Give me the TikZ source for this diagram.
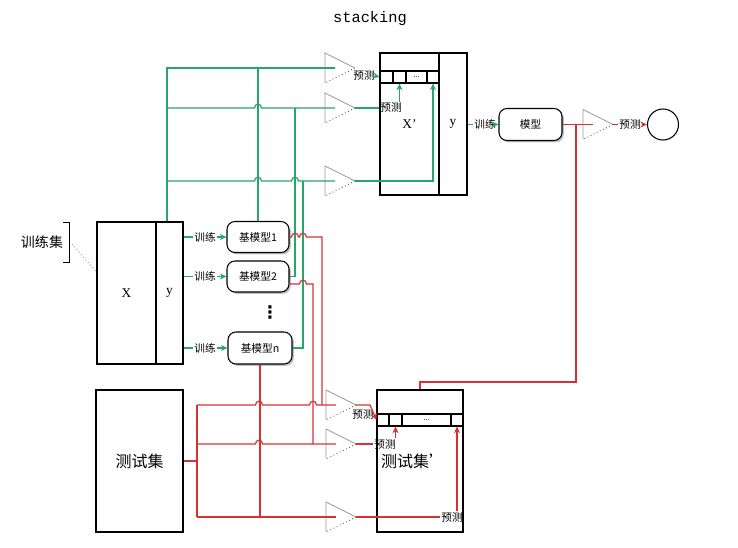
\documentclass[tikz,border=0pt]{standalone}
\usepackage{fontspec}
\setmainfont{Liberation Serif}
\newfontfamily\cjk{Noto Sans CJK SC}
\newfontfamily\monof{Liberation Mono}
\newfontfamily\dejav{DejaVu Sans}
\usetikzlibrary{arrows.meta,shadows,calc}
\definecolor{gl}{RGB}{40,165,105}
\definecolor{rl}{RGB}{215,50,50}
\begin{document}
\begin{tikzpicture}[x=0.75pt,y=-0.75pt,
  blk/.style={draw=black, line width=0.8pt, inner sep=0pt},
  rbox/.style={draw=black, line width=0.8pt, rounded corners=6pt, fill=white,
    drop shadow={shadow xshift=1.4pt, shadow yshift=-1.4pt, fill=black!50},
    minimum width=46.5pt, minimum height=23.25pt, inner sep=0pt,
    font=\cjk\fontsize{8}{9}\selectfont},
  lbl/.style={font=\cjk\fontsize{8}{9}\selectfont, inner sep=0.5pt},
  gline/.style={draw=gl, line width=0.9pt},
  rline/.style={draw=rl, line width=0.9pt},
  garr/.style={gline, -{Stealth[length=5pt,width=4.5pt]}},
  rarr/.style={rline, -{Stealth[length=5pt,width=4.5pt]}},
  cell/.style={blk, minimum height=9pt, font=\fontsize{6}{6}\selectfont},
  amp/.pic={
    \draw[gray!80, line width=0.6pt] (0,15) -- (0,-15) -- (30,0);
    \draw[gray!60!black, line width=0.6pt, dotted] (30,0) -- (0,15);
    \coordinate (-tip) at (30,0);
    \coordinate (-in) at (10,0);
  }]
\useasboundingbox (0,0) rectangle (738,548);

% title
\node[font=\monof\fontsize{11.5}{13}\selectfont] (title) at (370,19) {stacking};

% training set
\node[font=\cjk\fontsize{10.5}{12}\selectfont] (TL) at (42,242) {训练集};
\node[blk, minimum width=44.25pt, minimum height=106.5pt] (TX) at (126.5,293) {X};
\node[blk, minimum width=20.25pt, minimum height=106.5pt] (TY) at (169.5,293) {y};
\draw[line width=0.6pt] (63,222) -- (69,222) -- (69,262) -- (63,262);
\draw[gray, dotted, line width=0.6pt] (72,244) -- (TX.west |- 0,272);

% base models
\node[rbox] (b1) at (258,237) {基模型1};
\node[rbox] (b2) at (258,276.5) {基模型2};
\node[rbox, minimum width=48pt, minimum height=24pt] (bn) at (260,348) {基模型n};
\node[font=\dejav\bfseries\fontsize{13}{14}\selectfont, inner sep=0pt] (dots) at (270,312) {⋮};

% train labels
\node[lbl] (l1) at (205,237) {训练};
\node[lbl] (l2) at (205,276.5) {训练};
\node[lbl] (ln) at (205,348) {训练};
\foreach \l/\b in {l1/b1,l2/b2,ln/bn}{
  \draw[gline] (TY.east |- \l) -- (\l.west);
  \draw[garr] (\l.east) -- (\b.west);
}

% top box X'
\node[blk, minimum width=44.25pt, minimum height=106.5pt] (PX) at (409.5,124) {X’};
\node[blk, minimum width=21pt, minimum height=106.5pt] (PY) at (453,124) {y};
\node[cell, minimum width=9.75pt] (c1) at (386.5,77) {};
\node[cell, minimum width=9.75pt] (c2) at (399.5,77) {};
\node[cell, minimum width=15.75pt] (c3) at (416.5,77) {...};
\node[cell, minimum width=9pt] (c4) at (433,77) {};

% amplifiers (triangles)
\pic (t1) at (325,68) {amp};
\pic (t2) at (325,108) {amp};
\pic (t3) at (325,181) {amp};
\pic (tm) at (583,124.5) {amp};
\pic (t4) at (326,405) {amp};
\pic (t5) at (326,444) {amp};
\pic (t6) at (326,517) {amp};

% green distribution lines
\coordinate (g0) at (167,68);
\draw[gline] (TY.north -| g0) -- (g0) -- (t1-in);
\draw[gline] (b1.north) -- (b1.north |- g0);
\draw[gline] (167,108) -- (254.5,108) .. controls (254.5,103) and (261.5,103) .. (261.5,108) -- (t2-in);
\draw[gline] (b2.east) -| (295,108);
\draw[gline] (167,181) -- (254.5,181) .. controls (254.5,176) and (261.5,176) .. (261.5,181)
  -- (291.5,181) .. controls (291.5,176) and (298.5,176) .. (298.5,181) -- (t3-in);
\draw[gline] (bn.east) -| (303,181);

% predictions into X'
\node[lbl] (p1) at (364,76) {预测};
\draw[garr] (p1.east) -- (c1.west);
\node[lbl] (p2) at (391,108) {预测};
\draw[gline] (t2-tip) -- (p2.west);
\draw[garr] (p2.north -| c2.south) -- (c2.south);
\draw[garr] (t3-tip) -| (c4.south);

% final model
\node[rbox, minimum width=47.25pt, minimum height=24pt] (M) at (530.5,124.5) {模型};
\node[lbl] (lm) at (485,124.5) {训练};
\draw[gline] (PY.east |- lm) -- (lm.west);
\draw[garr] (lm.east) -- (M.west);
\node[draw=black, line width=0.8pt, circle, minimum size=23.25pt, inner sep=0pt] (C) at (663,124.5) {};
\node[lbl] (pm) at (630,124.5) {预测};

% test set
\node[blk, minimum width=65.25pt, minimum height=106.5pt, font=\cjk\fontsize{12}{14}\selectfont] (TS) at (139.5,461) {测试集};
\node[blk, minimum width=64.5pt, minimum height=106.5pt] (PT) at (420,461) {};
\node[font=\cjk\fontsize{12}{14}\selectfont, inner sep=0pt] (PTl) at (413,461) {测试集’};
\node[cell, minimum width=9pt] (d1) at (383,420) {};
\node[cell, minimum width=9.75pt] (d2) at (395.5,420) {};
\node[cell, minimum width=36.75pt] (d3) at (426.5,420) {...};
\node[cell, minimum width=9pt] (d4) at (457,420) {};

% red lines: final model
\draw[rline] (M.east) -- (tm-in);
\draw[rline] (M.east -| 576,0) -- (576,382) -| (PT.north);
\draw[rline] (tm-tip) -- (pm.west);
\draw[rarr] (pm.east) -- (C.west);

% red distribution lines
\coordinate (r0) at (197,461);
\draw[rline] (TS.east) -- (r0);
\draw[rline] (197,405) -- (197,517);
\draw[rline] (197,405) -- (255.5,405) .. controls (255.5,400) and (262.5,400) .. (262.5,405)
  -- (309.5,405) .. controls (309.5,400) and (316.5,400) .. (316.5,405) -- (t4-in);
\draw[rline] (197,444) -- (255.5,444) .. controls (255.5,439) and (262.5,439) .. (262.5,444) -- (t5-in);
\draw[rline] (197,517) -- (t6-in);
\draw[rline] (bn.south) -- (bn.south |- r0) -- (260,517);
\draw[rline] (b1.east) -- (291.5,237) .. controls (291.5,232) and (298.5,232) .. (298.5,237)
  -- (299.5,237) .. controls (299.5,232) and (306.5,232) .. (306.5,237) -- (322,237) -- (322,405);
\draw[rline] ($(b2.east)+(0,7.5)$) -- (299.5,284) .. controls (299.5,279) and (306.5,279) .. (306.5,284)
  -- (313,284) -- (313,444);

% predictions into test'
\node[lbl] (p4) at (363,414) {预测};
\draw[rarr] (t4-tip) -- ++(14,0) -- (d1.west);
\node[lbl] (p5) at (385,444) {预测};
\draw[rline] (t5-tip) -- (p5.west);
\draw[rarr] (p5.north -| d2.south) -- (d2.south);
\node[lbl] (p6) at (452,517) {预测};
\draw[rline] (t6-tip) -- (p6.west);
\draw[rarr] (p6.north -| d4.south) -- (d4.south);
\end{tikzpicture}
\end{document}
